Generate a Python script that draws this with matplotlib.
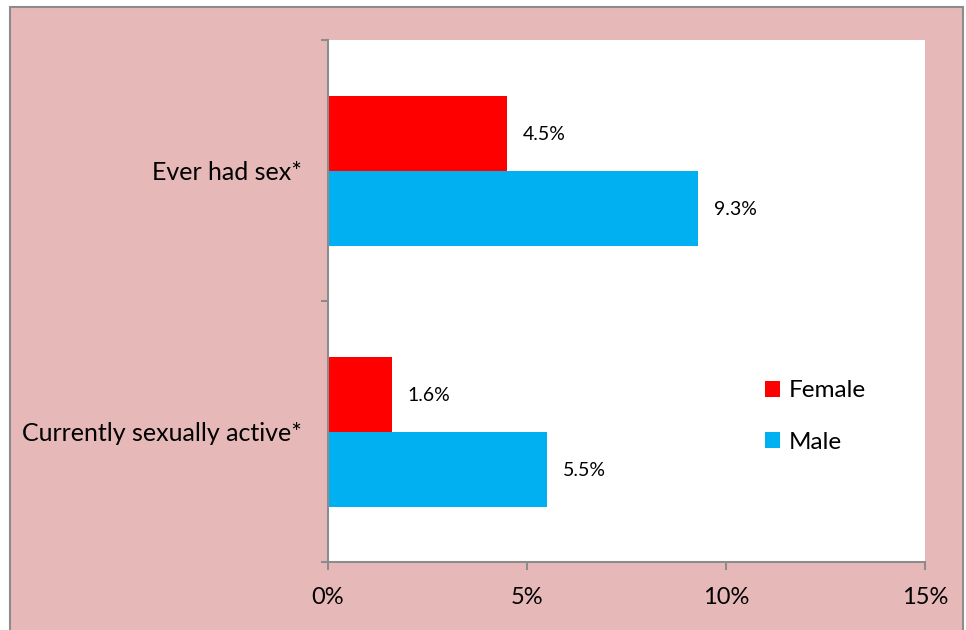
import matplotlib
matplotlib.use("Agg")
import matplotlib.pyplot as plt
from matplotlib.patches import Rectangle, Patch
import numpy as np

categories = ["Currently sexually active*", "Ever had sex*"]
female = [1.6, 4.5]
male = [5.5, 9.3]
series_names = ["Female", "Male"]
xticks = [0, 5, 10, 15]
xtick_labels = ["0%", "5%", "10%", "15%"]

RED = "#FF0000"
BLUE = "#00B0F0"
PINK = "#E6B9B8"
GRAY = "#8C8C8C"

plt.rcParams['font.family'] = ['Lato', 'DejaVu Sans']

fig = plt.figure(figsize=(9.66, 6.3), dpi=100, facecolor="white")
W, H = 966, 630
bg = Rectangle((10 / W, -0.05), (963 - 10) / W, 1 - 7 / H + 0.05, transform=fig.transFigure,
               facecolor=PINK, edgecolor=GRAY, linewidth=1.5, zorder=-10)
fig.add_artist(bg)

ax = fig.add_axes([328 / W, 1 - 562 / H, (925 - 328) / W, (562 - 40) / H])
ax.set_zorder(1)
ax.set_facecolor("white")

y = np.arange(len(categories))
h = 75 / 261
ax.barh(y + h / 2, female, height=h, color=RED, label=series_names[0])
ax.barh(y - h / 2, male, height=h, color=BLUE, label=series_names[1])

for yi, v in zip(y + h / 2, female):
    ax.annotate(f"{v:.1f}%", (v, yi), xytext=(11.5, -1), textcoords="offset points",
                va="center", ha="left", fontsize=14, color="black")
for yi, v in zip(y - h / 2, male):
    ax.annotate(f"{v:.1f}%", (v, yi), xytext=(11.5, -1), textcoords="offset points",
                va="center", ha="left", fontsize=14, color="black")

ax.set_xlim(0, 15)
ax.set_ylim(-0.5, len(categories) - 0.5)
ax.set_xticks(xticks)
ax.set_xticklabels(xtick_labels, fontsize=17)
ax.set_yticks(np.arange(-0.5, len(categories), 1.0))
ax.set_yticklabels([])
ax.set_yticks(y, minor=True)
ax.set_yticklabels(categories, minor=True, fontsize=18)
ax.tick_params(axis="y", which="minor", length=0, pad=19)
ax.tick_params(axis="y", which="major", length=5, color=GRAY, width=1.5)
ax.tick_params(axis="x", length=6, color=GRAY, width=1.5, pad=12)

for s in ["top", "right"]:
    ax.spines[s].set_visible(False)
for s in ["left", "bottom"]:
    ax.spines[s].set_color(GRAY)
    ax.spines[s].set_linewidth(1.5)

handles = [Patch(facecolor=RED), Patch(facecolor=BLUE)]
ax.legend(handles, series_names, loc="upper left", bbox_to_anchor=(0.695, 0.39),
          frameon=False, fontsize=17.5, handlelength=0.62, handleheight=0.62,
          handletextpad=0.35, labelspacing=1.25)

fig.savefig("out.png", dpi=100, facecolor="white")
